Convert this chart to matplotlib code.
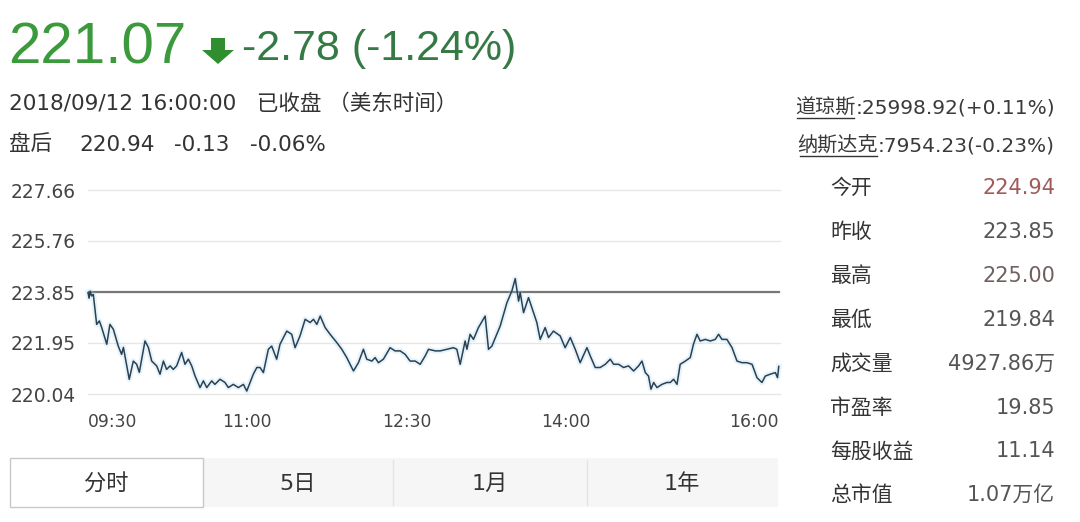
import matplotlib
matplotlib.use("Agg")

import matplotlib.pyplot as plt
from matplotlib.patches import Rectangle, Polygon
from matplotlib.lines import Line2D

plt.rcParams['font.family'] = ['DejaVu Sans', 'Noto Sans CJK SC']

# =====================================================
# Data
# =====================================================

last_price = "221.07"
change_text = "-2.78 (-1.24%)"
date_text = "2018/09/12 16:00:00   已收盘 （美东时间）"
after_hours = ["盘后", "220.94", "-0.13", "-0.06%"]

index_names = ["道琼斯", "纳斯达克"]
index_values = [":25998.92(+0.11%)", ":7954.23(-0.23%)"]

# minutes after 09:30 and price
minutes = [
    0, 0.6, 1.2, 2.0, 3.0, 4.9, 6.4, 7.7, 10.6, 12.4, 14.3, 17.1, 19.0, 20.0,
    23.3, 25.6, 27.5, 29.0, 32.2, 34.1, 36.0, 38.8, 40.7, 42.6, 44.4, 46.4,
    48.2, 50.1, 52.9, 54.8, 56.7, 58.6, 60.5, 63.3, 65.2, 67.1, 69.9, 71.7,
    74.6, 77.4, 79.3, 82.1, 85.0, 87.8, 89.7, 93.4, 95.4, 97.2, 99.1, 101.9,
    103.8, 106.6, 108.5, 112.3, 115.1, 117.0, 119.8, 122.7, 125.5, 127.4,
    129.3, 131.2, 134.0, 136.8, 140.6, 143.4, 146.2, 150.0, 152.8, 155.6,
    157.5, 160.4, 162.2, 164.1, 166.9, 170.7, 173.5, 176.4, 179.2, 182.0,
    184.9, 187.7, 190.5, 192.4, 196.2, 199.0, 202.8, 206.5, 208.4, 210.3,
    213.1, 214.1, 215.9, 217.8, 220.6, 224.4, 226.3, 228.2, 232.9, 236.7,
    239.5, 241.4, 243.3, 244.2, 246.1, 248.9, 251.7, 253.6, 255.5, 258.3,
    260.2, 263.0, 266.8, 269.6, 272.5, 275.3, 278.1, 281.9, 283.8, 286.6,
    289.4, 292.3, 295.1, 297.0, 299.8, 302.6, 305.4, 308.3, 311.1, 313.0,
    314.9, 316.7, 318.1, 319.6, 321.5, 324.3, 327.1, 329.0, 330.9, 332.8,
    334.6, 337.5, 340.3, 342.1, 344.1, 345.9, 348.8, 351.6, 354.4, 356.3,
    358.2, 361.0, 363.9, 366.7, 369.5, 372.3, 375.2, 378.0, 380.8, 382.7,
    385.5, 388.4, 389.6, 390.3
]
prices = [
    223.83, 223.62, 223.88, 223.70, 223.76, 222.64, 222.77, 222.53, 221.90,
    222.64, 222.46, 221.83, 221.52, 221.78, 220.59, 221.27, 221.15, 220.85,
    222.02, 221.78, 221.27, 221.09, 220.78, 221.27, 220.96, 221.09, 220.96,
    221.09, 221.59, 221.15, 221.34, 221.09, 220.71, 220.28, 220.53, 220.28,
    220.53, 220.40, 220.59, 220.47, 220.28, 220.40, 220.28, 220.40, 220.15,
    220.78, 221.03, 221.03, 220.84, 221.71, 221.83, 221.34, 221.90, 222.39,
    222.27, 221.77, 222.21, 222.83, 222.71, 222.83, 222.64, 222.95, 222.52,
    222.27, 221.96, 221.71, 221.40, 220.90, 221.21, 221.71, 221.34, 221.27,
    221.40, 221.21, 221.34, 221.77, 221.65, 221.65, 221.52, 221.27, 221.27,
    221.15, 221.46, 221.71, 221.65, 221.65, 221.71, 221.77, 221.71, 221.15,
    222.02, 221.71, 222.27, 222.08, 222.52, 222.95, 221.71, 221.83, 222.58,
    223.45, 223.89, 224.35, 223.51, 223.83, 223.08, 223.64, 223.08, 222.71,
    222.08, 222.52, 222.15, 222.39, 222.21, 221.77, 222.15, 221.71, 221.21,
    221.77, 221.46, 221.03, 221.03, 221.15, 221.34, 221.15, 221.15, 221.03,
    221.09, 220.90, 221.09, 221.27, 220.84, 220.71, 220.22, 220.47, 220.28,
    220.40, 220.47, 220.47, 220.59, 220.40, 221.15, 221.27, 221.40, 221.90,
    222.27, 222.02, 222.08, 222.02, 222.08, 222.27, 222.08, 222.08, 221.77,
    221.27, 221.21, 221.21, 221.15, 220.65, 220.47, 220.71, 220.78, 220.84,
    220.65, 221.07
]

prev_close = 223.85
y_ticks = [220.04, 221.95, 223.85, 225.76, 227.66]
x_ticks = [0, 90, 180, 270, 390]
x_tick_labels = ["09:30", "11:00", "12:30", "14:00", "16:00"]

stat_names = ["今开", "昨收", "最高", "最低", "成交量", "市盈率", "每股收益", "总市值"]
stat_values = ["224.94", "223.85", "225.00", "219.84", "4927.86万", "19.85", "11.14", "1.07万亿"]
stat_colors = ["#a05a5a", "#555555", "#706060", "#555555", "#555555", "#555555", "#555555", "#555555"]

tabs = ["分时", "5日", "1月", "1年"]

# =====================================================
# Figure (positions in pixels from top-left)
# =====================================================

W = 1080
H = 522

fig = plt.figure(figsize=(W / 100, H / 100), dpi=100)
fig.patch.set_facecolor("white")


def fx(x):
    return x / W


def fy(y):
    return 1 - y / H


# -----------------------------
# Header
# -----------------------------

fig.text(fx(8), fy(48), last_price, fontsize=42, color="#3a9a3c",
         family="Liberation Sans", va="center", ha="left")

arrow = [(211, 38), (225, 38), (225, 50), (234, 50), (218, 64), (202, 50), (211, 50)]
fig.patches.append(Polygon([(fx(a), fy(b)) for a, b in arrow], closed=True,
                           facecolor="#2f8f2f", edgecolor="none",
                           transform=fig.transFigure, figure=fig))

fig.text(fx(242), fy(49), change_text, fontsize=31, color="#357a45",
         family="Liberation Sans", va="center", ha="left")

fig.text(fx(9), fy(104), date_text, fontsize=15.5, color="#333333",
         va="center", ha="left")

after_x = [9, 79, 174, 250]
for t, x in zip(after_hours, after_x):
    fig.text(fx(x), fy(145), t, fontsize=15.5, color="#333333",
             va="center", ha="left")

# index quotes, right aligned, names underlined
renderer = fig.canvas.get_renderer()
for i in range(len(index_names)):
    y = 108 + i * 38
    tv = fig.text(fx(1055), fy(y), index_values[i], fontsize=14.5,
                  color="#3a3a3a", va="center", ha="right")
    bb = tv.get_window_extent(renderer)
    tn = fig.text(bb.x0 / W, fy(y), index_names[i], fontsize=14.5,
                  color="#3a3a3a", va="center", ha="right")
    nb = tn.get_window_extent(renderer)
    fig.add_artist(Line2D([(nb.x0 + 2) / W, (nb.x1 - 1) / W], [fy(y + 10), fy(y + 10)],
                          color="#333333", lw=1, transform=fig.transFigure))

# -----------------------------
# Intraday chart
# -----------------------------

ax = fig.add_axes([fx(88), fy(394), (780 - 88) / W, (394 - 190) / H])
ax.set_xlim(0, 391)
ax.set_ylim(y_ticks[0], y_ticks[-1])

ax.set_yticks(y_ticks)
ax.set_yticklabels(["%.2f" % v for v in y_ticks])
ax.set_xticks(x_ticks)
ax.set_xticklabels(x_tick_labels)
lab = ax.get_xticklabels()
lab[0].set_ha("left")
lab[-1].set_ha("right")

ax.tick_params(axis="y", length=0, pad=9, labelsize=13.4, labelcolor="#444444")
ax.tick_params(axis="x", length=0, pad=14, labelsize=12.3, labelcolor="#444444")

for s in ax.spines.values():
    s.set_visible(False)

for v in y_ticks:
    ax.axhline(v, color="#e6e6e6", lw=1, zorder=1, clip_on=False)
ax.axhline(prev_close, color="#777777", lw=1.6, zorder=2)

ax.plot(minutes, prices, color="#9fd0f0", lw=4, alpha=0.25, zorder=3,
        solid_joinstyle="round", clip_on=False)
ax.plot(minutes, prices, color="#2a4152", lw=1.1, zorder=4, clip_on=False)

# -----------------------------
# Right panel
# -----------------------------

for i in range(len(stat_names)):
    y = 188 + i * 43.9
    fig.text(fx(830), fy(y), stat_names[i], fontsize=15, color="#333333",
             va="center", ha="left")
    fig.text(fx(1055), fy(y), stat_values[i], fontsize=15, color=stat_colors[i],
             va="center", ha="right")

# -----------------------------
# Tabs
# -----------------------------

fig.patches.append(Rectangle((fx(203), fy(507)), (778 - 203) / W, 49 / H,
                             facecolor="#f6f6f6", edgecolor="none",
                             transform=fig.transFigure, figure=fig))
fig.patches.append(Rectangle((fx(10), fy(507)), 193 / W, 49 / H,
                             facecolor="white", edgecolor="#c8c8c8", lw=1,
                             transform=fig.transFigure, figure=fig))
for x in [393, 587]:
    fig.add_artist(Line2D([fx(x), fx(x)], [fy(460), fy(505)],
                          color="#e4e4e4", lw=1, transform=fig.transFigure))

tab_x = [106, 298, 490, 682]
for t, x in zip(tabs, tab_x):
    fig.text(fx(x), fy(484), t, fontsize=16, color="#333333",
             va="center", ha="center")

fig.savefig("out.png", dpi=100)
